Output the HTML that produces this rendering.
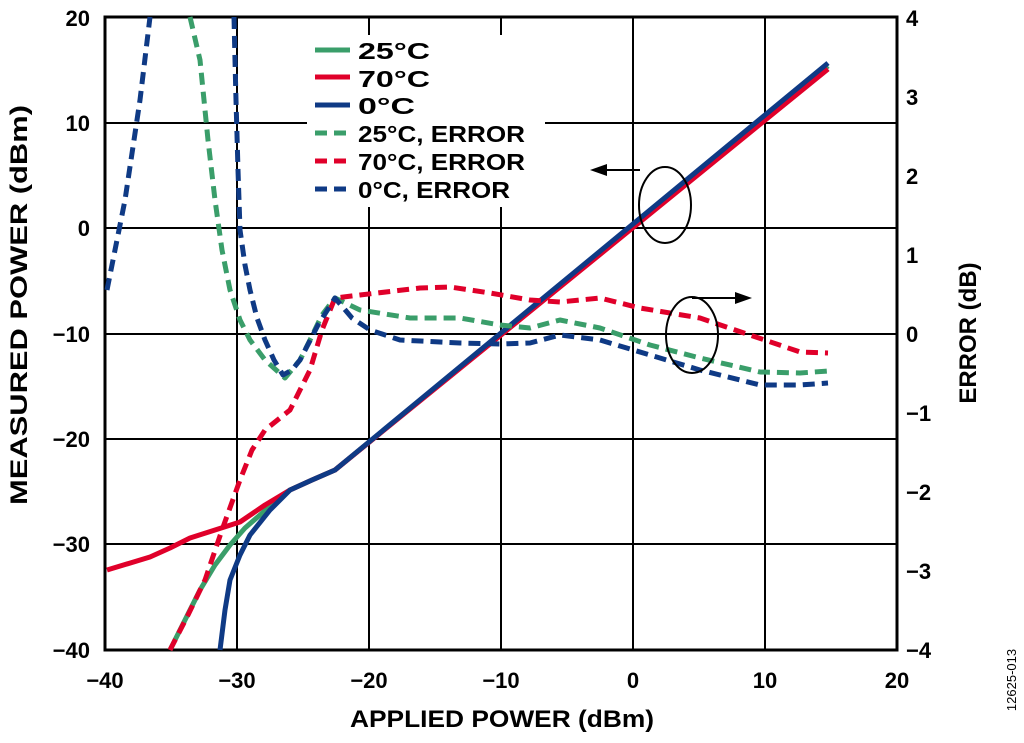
<!DOCTYPE html><html><head><style>body{margin:0;background:#fff}svg{display:block}text{font-family:"Liberation Sans",sans-serif;font-weight:bold;fill:#000}</style></head><body>
<svg width="1024" height="743" viewBox="0 0 1024 743">
<g stroke="#000" stroke-width="2">
<line x1="237" y1="17" x2="237" y2="650"/><line x1="369" y1="17" x2="369" y2="650"/><line x1="501" y1="17" x2="501" y2="650"/><line x1="633" y1="17" x2="633" y2="650"/><line x1="765" y1="17" x2="765" y2="650"/>
<line x1="105" y1="123" x2="897" y2="123"/><line x1="105" y1="228" x2="897" y2="228"/><line x1="105" y1="334" x2="897" y2="334"/><line x1="105" y1="439" x2="897" y2="439"/><line x1="105" y1="544" x2="897" y2="544"/>
</g>
<rect x="307" y="35" width="238" height="172" fill="#fff"/>
<rect x="105" y="17" width="792" height="633" fill="none" stroke="#000" stroke-width="3"/>
<g fill="none" stroke-width="5" stroke-linejoin="round">
<polyline stroke="#3a9e6a" points="170,650 185,620 200,590 215,565 230,545 245,528 260,515 275,502 290,490 312,480 335,470 828,66"/>
<polyline stroke="#e0002a" points="107,570 150,557 170,548 190,538 215,530 240,522 265,505 290,490 312,480 335,470 828,69"/>
<polyline stroke="#0f3a85" points="220,650 225,610 230,580 240,555 250,535 270,510 290,490 312,480 335,470 828,63"/>
<g stroke-dasharray="12,7">
<polyline stroke="#3a9e6a" points="190,17 200,60 208,140 215,200 222,250 230,290 240,320 250,340 265,360 285,378 300,360 310,340 322,315 335,298 360,310 410,318 460,318 500,325 530,328 560,320 600,328 650,345 700,358 760,372 800,373 828,371"/>
<polyline stroke="#e0002a" points="170,650 188,615 205,580 222,530 240,480 252,450 265,430 290,410 300,390 310,370 322,330 335,298 360,295 420,288 450,287 490,293 530,300 560,302 600,298 640,308 700,318 750,335 800,352 828,353"/>
<polyline stroke="#0f3a85" points="107,290 125,200 140,100 150,17"/>
<polyline stroke="#0f3a85" points="234,17 235,60 236,100 238,170 240,230 245,265 250,290 257,318 265,340 274,360 283,375 292,370 300,360 318,325 335,298 352,318 370,330 400,340 460,343 500,344 530,343 560,335 600,340 650,355 700,370 760,385 800,385 828,383"/>
</g>
</g>
<g stroke-width="5">
<line x1="315" y1="50" x2="350" y2="50" stroke="#3a9e6a"/><line x1="315" y1="77" x2="350" y2="77" stroke="#e0002a"/><line x1="315" y1="105" x2="350" y2="105" stroke="#0f3a85"/>
<line x1="315" y1="133" x2="350" y2="133" stroke="#3a9e6a" stroke-dasharray="12,7"/><line x1="315" y1="161" x2="350" y2="161" stroke="#e0002a" stroke-dasharray="12,7"/><line x1="315" y1="189" x2="350" y2="189" stroke="#0f3a85" stroke-dasharray="12,7"/>
</g>
<g font-size="23"><text x="358" y="59" textLength="72" lengthAdjust="spacingAndGlyphs">25°C</text><text x="358" y="87" textLength="72" lengthAdjust="spacingAndGlyphs">70°C</text><text x="358" y="114" textLength="57" lengthAdjust="spacingAndGlyphs">0°C</text><text x="358" y="142" textLength="167" lengthAdjust="spacingAndGlyphs">25°C, ERROR</text><text x="358" y="170" textLength="167" lengthAdjust="spacingAndGlyphs">70°C, ERROR</text><text x="358" y="198" textLength="152" lengthAdjust="spacingAndGlyphs">0°C, ERROR</text></g>
<g fill="none" stroke="#000" stroke-width="2"><ellipse cx="665" cy="205" rx="26" ry="38"/><ellipse cx="692" cy="335" rx="26" ry="38"/><line x1="640" y1="170" x2="605" y2="170"/><line x1="692" y1="298" x2="735" y2="298"/></g>
<polygon points="590,170 607,164 607,176"/><polygon points="752,298 735,292 735,304"/>
<g font-size="22" text-anchor="end"><text x="90" y="26">20</text><text x="90" y="131">10</text><text x="90" y="236">0</text><text x="90" y="342">−10</text><text x="90" y="447">−20</text><text x="90" y="552">−30</text><text x="90" y="658">−40</text></g>
<g font-size="22"><text x="906" y="26">4</text><text x="906" y="105">3</text><text x="906" y="184">2</text><text x="906" y="263">1</text><text x="906" y="342">0</text><text x="906" y="421">−1</text><text x="906" y="500">−2</text><text x="906" y="579">−3</text><text x="906" y="658">−4</text></g>
<g font-size="22" text-anchor="middle"><text x="105" y="688">−40</text><text x="237" y="688">−30</text><text x="369" y="688">−20</text><text x="501" y="688">−10</text><text x="633" y="688">0</text><text x="765" y="688">10</text><text x="897" y="688">20</text></g>
<g font-size="24" text-anchor="middle">
<text x="502" y="727" textLength="304" lengthAdjust="spacingAndGlyphs">APPLIED POWER (dBm)</text>
<text transform="translate(27,305) rotate(-90)" textLength="400" lengthAdjust="spacingAndGlyphs">MEASURED POWER (dBm)</text>
<text transform="translate(976,333) rotate(-90)">ERROR (dB)</text></g>
<text transform="translate(1016,680) rotate(-90)" font-size="13" text-anchor="middle" style="font-weight:normal">12625-013</text>
</svg></body></html>
